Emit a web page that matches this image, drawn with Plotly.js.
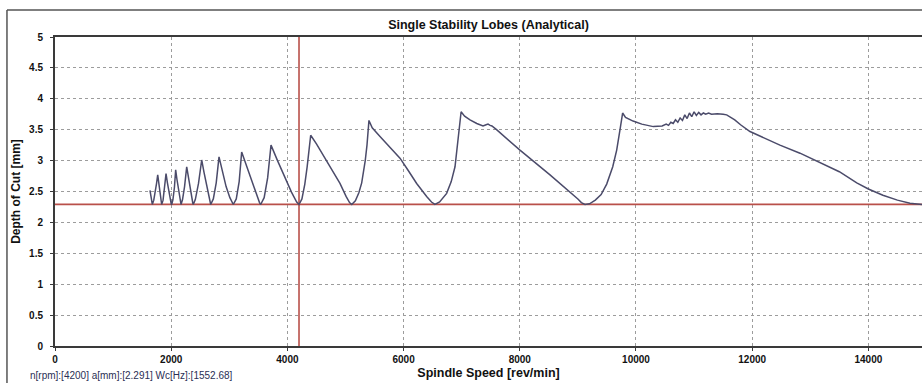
<!DOCTYPE html>
<html>
<head>
<meta charset="utf-8">
<script src="https://cdn.plot.ly/plotly-3.0.1.min.js"></script>
<style>html,body{margin:0;padding:0;background:#fff;}#chart{width:922px;height:383px;}</style>
</head>
<body>
<div id="chart"></div>
<script>
// Stability lobe curve: spindle speed [rev/min] and depth of cut [mm]
const spindleSpeed = [
  1635,1655,1675,1700,1725,1748,1768,1785,1802,1818,1830,1836,
  1860,1885,1911,1935,1960,1985,2000,2009,
  2030,2055,2077,2100,2125,2150,2162,2169,
  2195,2230,2267,2295,2325,2355,2372,2380,
  2415,2470,2525,2565,2605,2645,2668,2680,
  2725,2775,2823,2885,2945,3010,3050,3069,
  3120,3170,3213,3300,3390,3470,3520,3540,
  3600,3660,3718,3830,3950,4070,4160,4200,
  4250,4300,4340,4375,4401,4500,4618,4760,4905,5010,5070,5107,
  5170,5230,5279,5340,5370,5404,5460,5594,5760,5938,6080,6225,6397,6480,6540,
  6620,6741,6820,6885,6942,6970,6990,7050,7143,7260,7367,7420,7453,7490,7520,7600,8003,8520,8864,9000,9060,9122,
  9200,9300,9400,9496,9600,9668,9725,9770,
  9820,9950,10100,10298,10450,10520,10560,10600,10640,10680,10720,10760,10800,10840,10880,10920,10960,11000,11040,11080,11120,11160,11200,11250,11300,11400,11500,11561,
  11700,11800,11962,12478,12823,13167,13500,13800,14000,14250,14500,14716,14923
];
const depthOfCut = [
  2.52,2.40,2.29,2.36,2.48,2.63,2.77,2.64,2.51,2.39,2.31,2.29,
  2.36,2.53,2.79,2.64,2.49,2.36,2.30,2.29,
  2.37,2.56,2.85,2.69,2.53,2.38,2.31,2.29,
  2.37,2.58,2.90,2.72,2.55,2.39,2.31,2.29,
  2.37,2.63,3.01,2.81,2.61,2.42,2.32,2.29,
  2.38,2.64,3.06,2.81,2.58,2.40,2.31,2.29,
  2.38,2.66,3.14,2.90,2.66,2.44,2.32,2.29,
  2.40,2.72,3.25,3.00,2.74,2.49,2.33,2.29,
  2.38,2.62,2.90,3.22,3.41,3.27,3.09,2.86,2.63,2.42,2.32,2.29,
  2.35,2.48,2.64,3.00,3.25,3.65,3.53,3.39,3.22,3.04,2.84,2.63,2.42,2.33,2.29,
  2.33,2.47,2.66,2.90,3.33,3.62,3.79,3.72,3.66,3.60,3.56,3.58,3.59,3.57,3.56,3.50,3.17,2.77,2.50,2.38,2.32,2.29,
  2.30,2.36,2.45,2.62,2.90,3.17,3.50,3.77,
  3.70,3.64,3.59,3.55,3.56,3.59,3.57,3.62,3.60,3.66,3.62,3.69,3.65,3.74,3.68,3.77,3.71,3.79,3.73,3.78,3.74,3.77,3.75,3.77,3.75,3.76,3.75,3.74,
  3.66,3.58,3.47,3.25,3.12,2.97,2.82,2.64,2.54,2.44,2.36,2.31,2.29
];
// Cursor position
const cursorRpm = [4200, 4200];
const cursorDepthSpan = [0, 5];
const thresholdRpm = [0, 15000];
const thresholdDepth = [2.291, 2.291];
// Axis ticks
const xTicks = [0, 2000, 4000, 6000, 8000, 10000, 12000, 14000];
const yTicks = [0, 0.5, 1, 1.5, 2, 2.5, 3, 3.5, 4, 4.5, 5];
const yTickText = ['0', '0.5', '1', '1.5', '2', '2.5', '3', '3.5', '4', '4.5', '5'];
const statusText = 'n[rpm]:[4200] a[mm]:[2.291] Wc[Hz]:[1552.68]';

const FONT = '"Liberation Sans", Arial, sans-serif';
const cursorColor = '#b9504a';

const traces = [
  {x: thresholdRpm, y: thresholdDepth, mode: 'lines', line: {color: cursorColor, width: 1.6}, hoverinfo: 'skip', showlegend: false},
  {x: cursorRpm, y: cursorDepthSpan, mode: 'lines', line: {color: cursorColor, width: 1.6}, hoverinfo: 'skip', showlegend: false},
  {x: spindleSpeed, y: depthOfCut, mode: 'lines', line: {color: '#4b4b6a', width: 1.5}, showlegend: false}
];

const layout = {
  width: 922, height: 383,
  margin: {l: 55, r: 0, t: 37, b: 37, pad: 0},
  paper_bgcolor: '#ffffff',
  plot_bgcolor: '#ffffff',
  font: {family: FONT, color: '#111', size: 10},
  title: {text: '<b>Single Stability Lobes (Analytical)</b>', font: {family: FONT, size: 12.5, color: '#111'},
          x: 0.5, xref: 'paper', y: 0.935, yref: 'container', yanchor: 'middle'},
  xaxis: {
    range: [0, 14923], tickvals: xTicks, ticktext: xTicks.map(v => '<b>' + v + '</b>'),
    showgrid: true, gridcolor: '#9c9c9c', griddash: 'dot', gridwidth: 1,
    showline: true, linecolor: '#3a3a3a', linewidth: 2, mirror: true,
    ticks: 'outside', ticklen: 3, tickcolor: '#3a3a3a',
    tickfont: {family: FONT, size: 10, color: '#111'},
    zeroline: false,
    title: {text: '<b>Spindle Speed [rev/min]</b>', font: {family: FONT, size: 12.5, color: '#111'}, standoff: 4}
  },
  yaxis: {
    range: [0, 5], tickvals: yTicks, ticktext: yTickText.map(v => '<b>' + v + '</b>'),
    showgrid: true, gridcolor: '#9c9c9c', griddash: 'dot', gridwidth: 1,
    showline: true, linecolor: '#3a3a3a', linewidth: 2,
    ticks: 'outside', ticklen: 3, tickcolor: '#3a3a3a', ticklabelstandoff: 5,
    tickfont: {family: FONT, size: 10, color: '#111'},
    zeroline: false,
    title: {text: '<b>Depth of Cut [mm]</b>', font: {family: FONT, size: 12, color: '#111'}, standoff: 6}
  },
  shapes: [
    {type: 'line', xref: 'paper', yref: 'paper', x0: -0.0554, x1: 1.01, y0: 1.0874, y1: 1.0874, line: {color: '#555', width: 1.5}},
    {type: 'line', xref: 'paper', yref: 'paper', x0: -0.0554, x1: -0.0554, y0: 1.0874, y1: -0.13, line: {color: '#555', width: 1.5}}
  ],
  annotations: [
    {text: statusText, xref: 'paper', yref: 'paper', x: -0.0311, y: -0.0939, xanchor: 'left', yanchor: 'middle',
     showarrow: false, font: {family: FONT, size: 10, color: '#2a2f55'}}
  ]
};

Plotly.newPlot('chart', traces, layout, {displayModeBar: false, staticPlot: true});
</script>
</body>
</html>
